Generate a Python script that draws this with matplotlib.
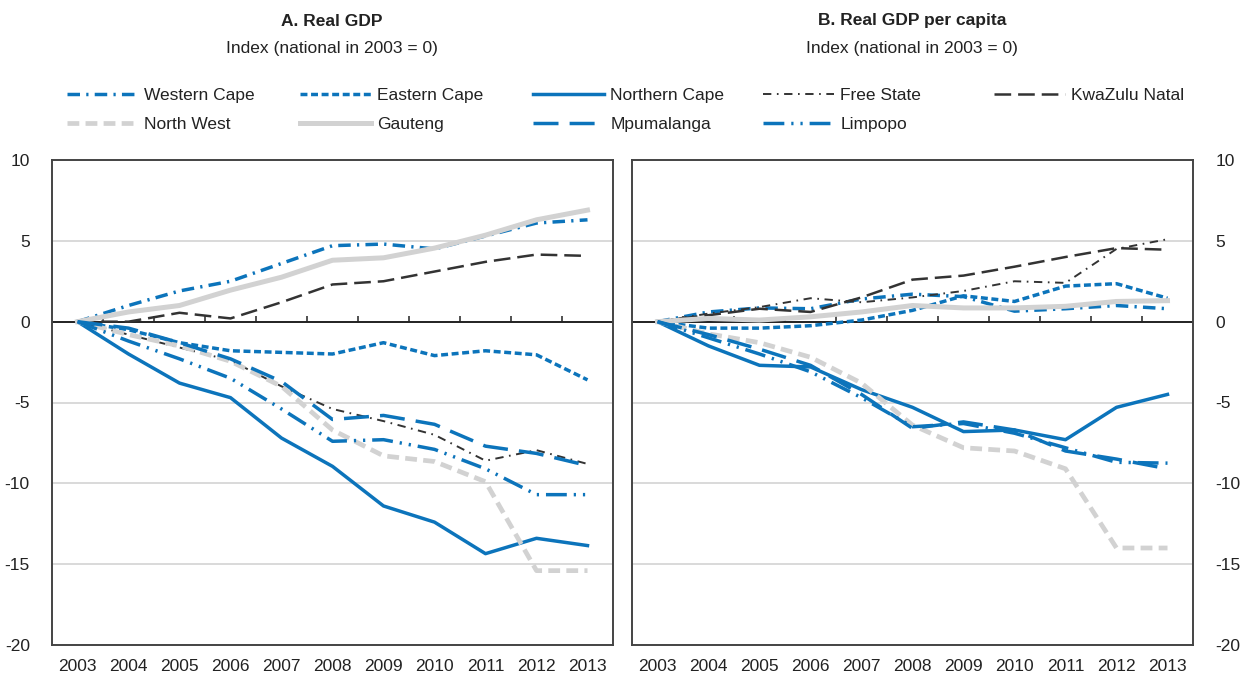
import numpy as np
import matplotlib
matplotlib.use("Agg")
import matplotlib.pyplot as plt

plt.rcParams['font.family'] = ['Liberation Sans Narrow', 'Liberation Sans', 'DejaVu Sans']
plt.rcParams['lines.scale_dashes'] = False
plt.rcParams['axes.unicode_minus'] = False

years = list(range(2003, 2014))

# Panel A: real GDP
western_cape_a = [0, 1.0, 1.9, 2.5, 3.6, 4.7, 4.8, 4.5, 5.3, 6.1, 6.3]
eastern_cape_a = [0, -0.5, -1.3, -1.8, -1.9, -2.0, -1.3, -2.1, -1.8, -2.05, -3.6]
northern_cape_a = [0, -2.0, -3.8, -4.7, -7.2, -8.95, -11.4, -12.4, -14.35, -13.4, -13.85]
free_state_a = [0, -0.8, -1.6, -2.4, -4.0, -5.4, -6.15, -7.0, -8.6, -7.95, -8.8]
kzn_a = [0, 0.0, 0.55, 0.2, 1.2, 2.3, 2.5, 3.1, 3.7, 4.15, 4.07]
north_west_a = [0, -0.8, -1.5, -2.45, -4.0, -6.7, -8.3, -8.65, -9.9, -15.4, -15.4]
gauteng_a = [0, 0.6, 1.0, 1.95, 2.75, 3.8, 3.95, 4.55, 5.35, 6.3, 6.9]
mpumalanga_a = [0, -0.4, -1.3, -2.3, -3.7, -6.05, -5.8, -6.35, -7.7, -8.15, -8.9]
limpopo_a = [0, -1.2, -2.3, -3.5, -5.4, -7.4, -7.3, -7.9, -9.1, -10.7, -10.7]

# Panel B: real GDP per capita
western_cape_b = [0, 0.6, 0.85, 0.8, 1.4, 1.7, 1.55, 0.65, 0.8, 1.0, 0.8]
eastern_cape_b = [0, -0.4, -0.4, -0.25, 0.1, 0.7, 1.6, 1.25, 2.2, 2.35, 1.45]
northern_cape_b = [0, -1.5, -2.7, -2.8, -4.2, -5.3, -6.8, -6.7, -7.3, -5.3, -4.5]
free_state_b = [0, 0.5, 0.9, 1.45, 1.2, 1.5, 1.9, 2.5, 2.4, 4.5, 5.1]
kzn_b = [0, 0.4, 0.8, 0.6, 1.5, 2.6, 2.85, 3.4, 4.0, 4.55, 4.45]
north_west_b = [0, -0.75, -1.3, -2.2, -3.8, -6.4, -7.8, -8.0, -9.1, -14.0, -14.0]
gauteng_b = [0, 0.2, 0.1, 0.3, 0.6, 1.0, 0.85, 0.85, 0.95, 1.25, 1.3]
mpumalanga_b = [0, -0.8, -1.7, -2.7, -4.5, -6.6, -6.2, -6.7, -8.0, -8.5, -9.1]
limpopo_b = [0, -1.0, -2.0, -3.1, -4.7, -6.5, -6.3, -6.9, -7.8, -8.7, -8.75]

names = ["Western Cape", "Eastern Cape", "Northern Cape", "Free State", "KwaZulu Natal",
         "North West", "Gauteng", "Mpumalanga", "Limpopo"]
series_a = [western_cape_a, eastern_cape_a, northern_cape_a, free_state_a, kzn_a,
            north_west_a, gauteng_a, mpumalanga_a, limpopo_a]
series_b = [western_cape_b, eastern_cape_b, northern_cape_b, free_state_b, kzn_b,
            north_west_b, gauteng_b, mpumalanga_b, limpopo_b]

blue = '#0c74bb'
dark = '#333333'
light = '#d2d2d2'
styles = {
    "Western Cape": dict(color=blue, lw=2.5, dashes=(9, 4.5, 1.6, 4.5)),
    "Eastern Cape": dict(color=blue, lw=2.5, dashes=(5, 2.6)),
    "Northern Cape": dict(color=blue, lw=2.5, ls='-'),
    "Free State": dict(color=dark, lw=1.4, dashes=(6, 4, 1.2, 4)),
    "KwaZulu Natal": dict(color=dark, lw=1.8, dashes=(12, 5)),
    "North West": dict(color=light, lw=3.4, dashes=(8.5, 4.5)),
    "Gauteng": dict(color=light, lw=3.6, ls='-'),
    "Mpumalanga": dict(color=blue, lw=2.5, dashes=(18, 8)),
    "Limpopo": dict(color=blue, lw=2.5, dashes=(15, 5, 1.6, 5, 1.6, 5)),
}

fig = plt.figure(figsize=(12.44, 6.77), dpi=100)
ax_a = fig.add_axes([52 / 1244, 32 / 677, 561 / 1244, 485 / 677])
ax_b = fig.add_axes([632 / 1244, 32 / 677, 561 / 1244, 485 / 677])

fs = 12.5
handles = {}
for ax, data in [(ax_a, series_a), (ax_b, series_b)]:
    for name, vals in zip(names, data):
        ln, = ax.plot(years, vals, label=name, **styles[name])
        handles.setdefault(name, ln)
    ax.set_xlim(2002.5, 2013.5)
    ax.set_ylim(-20, 10)
    ax.set_yticks(range(-20, 11, 5))
    ax.set_xticks(years)
    ax.grid(axis='y', color='#d3d3d3', lw=1.2, zorder=0)
    ax.set_axisbelow(True)
    ax.axhline(0, color='#222222', lw=1.4, zorder=1)
    bounds = np.array(years[:-1]) + 0.5
    ax.vlines(bounds, 0, 0.38, color='#222222', lw=1.1, zorder=1)
    ax.tick_params(axis='both', length=0, labelsize=fs, colors='#222222')
    ax.tick_params(axis='y', pad=16)
    ax.tick_params(axis='x', pad=10)
    for s in ax.spines.values():
        s.set_color('#444444')
        s.set_linewidth(1.4)

ax_b.yaxis.tick_right()

fig.text(332 / 1244, 1 - 21 / 677, "A. Real GDP", ha='center', va='center',
         fontsize=fs, fontweight='bold', color='#222222')
fig.text(332 / 1244, 1 - 49 / 677, "Index (national in 2003 = 0)", ha='center', va='center',
         fontsize=fs, color='#222222')
fig.text(912 / 1244, 1 - 21 / 677, "B. Real GDP per capita", ha='center', va='center',
         fontsize=fs, fontweight='bold', color='#222222')
fig.text(912 / 1244, 1 - 49 / 677, "Index (national in 2003 = 0)", ha='center', va='center',
         fontsize=fs, color='#222222')

columns = [["Western Cape", "North West"], ["Eastern Cape", "Gauteng"],
           ["Northern Cape", "Mpumalanga"], ["Free State", "Limpopo"], ["KwaZulu Natal"]]
col_x = [67, 300, 533, 763, 994]
for cx, col in zip(col_x, columns):
    leg = fig.legend([handles[n] for n in col], col, loc='upper left',
                     bbox_to_anchor=(cx / 1244, 1 - 88 / 677), frameon=False,
                     fontsize=fs, handlelength=4.1, handletextpad=0.35,
                     borderpad=0, borderaxespad=0, labelspacing=0.78)
    for t in leg.get_texts():
        t.set_color('#222222')

fig.savefig("out.png", dpi=100)
